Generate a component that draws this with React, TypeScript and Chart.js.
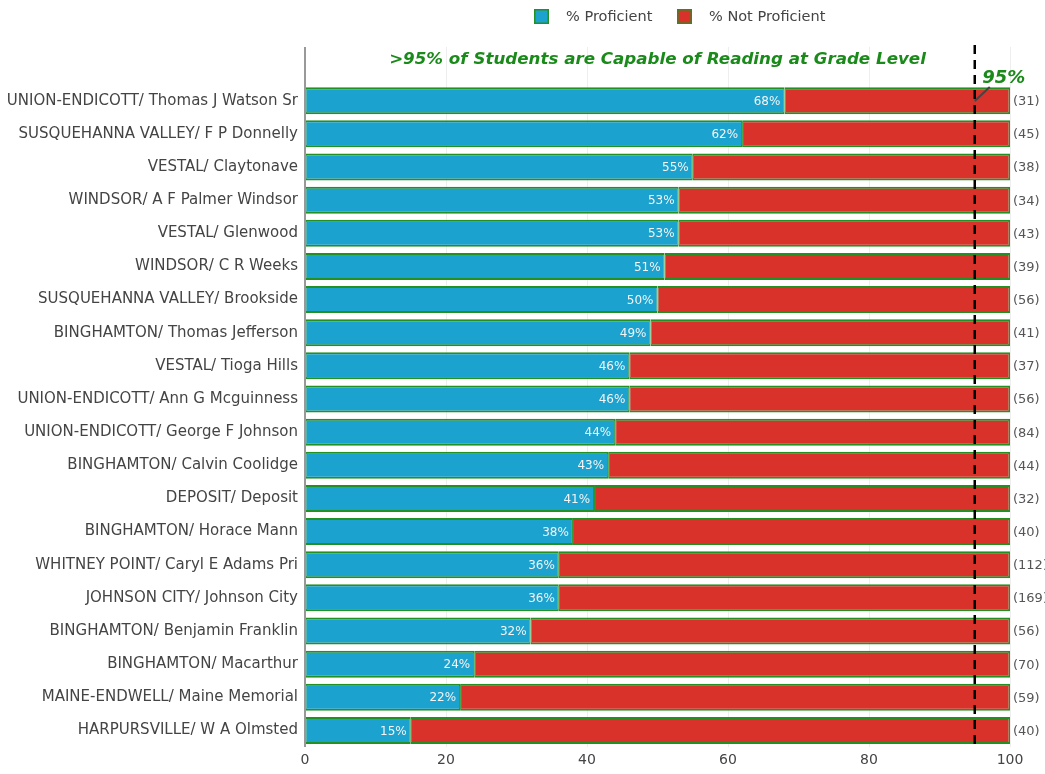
import React, { useEffect, useRef } from "react";
import { Chart, registerables } from "chart.js";

Chart.register(...registerables);

const categories: string[] = [
  "UNION-ENDICOTT/ Thomas J Watson Sr",
  "SUSQUEHANNA VALLEY/ F P Donnelly",
  "VESTAL/ Claytonave",
  "WINDSOR/ A F Palmer Windsor",
  "VESTAL/ Glenwood",
  "WINDSOR/ C R Weeks",
  "SUSQUEHANNA VALLEY/ Brookside",
  "BINGHAMTON/ Thomas Jefferson",
  "VESTAL/ Tioga Hills",
  "UNION-ENDICOTT/ Ann G Mcguinness",
  "UNION-ENDICOTT/ George F Johnson",
  "BINGHAMTON/ Calvin Coolidge",
  "DEPOSIT/ Deposit",
  "BINGHAMTON/ Horace Mann",
  "WHITNEY POINT/ Caryl E Adams Pri",
  "JOHNSON CITY/ Johnson City",
  "BINGHAMTON/ Benjamin Franklin",
  "BINGHAMTON/ Macarthur",
  "MAINE-ENDWELL/ Maine Memorial",
  "HARPURSVILLE/ W A Olmsted",
];

const proficient: number[] = [68, 62, 55, 53, 53, 51, 50, 49, 46, 46, 44, 43, 41, 38, 36, 36, 32, 24, 22, 15];
const notProficient: number[] = [32, 38, 45, 47, 47, 49, 50, 51, 54, 54, 56, 57, 59, 62, 64, 64, 68, 76, 78, 85];
const studentCounts: number[] = [31, 45, 38, 34, 43, 39, 56, 41, 37, 56, 84, 44, 32, 40, 112, 169, 56, 70, 59, 40];
const xTicks: number[] = [0, 20, 40, 60, 80, 100];
const threshold = 95;
const titleText = ">95% of Students are Capable of Reading at Grade Level";
const seriesNames: string[] = ["% Proficient", "% Not Proficient"];

const BLUE = "#1CA2CE";
const RED = "#D9322B";
const BORDER = "#239023";
const GREEN_TEXT = "#1a8a1a";
const FONT = "'DejaVu Sans', Verdana, sans-serif";

export default function App() {
  const ref = useRef<HTMLCanvasElement | null>(null);

  useEffect(() => {
    document.body.style.margin = "0";
    const canvas = ref.current;
    if (!canvas) return;

    const labels = ["", ...categories];
    const d1 = [null, ...proficient];
    const d2 = [null, ...notProficient];

    const overlay = {
      id: "overlay",
      beforeDatasetsDraw(chart: any) {
        const ctx = chart.ctx;
        const xs = chart.scales.x;
        const area = chart.chartArea;
        ctx.save();
        ctx.strokeStyle = "#eeeeee";
        ctx.lineWidth = 1;
        for (const t of xTicks) {
          if (t === 0) continue;
          const px = Math.round(xs.getPixelForValue(t)) + 0.5;
          ctx.beginPath();
          ctx.moveTo(px, 47);
          ctx.lineTo(px, area.bottom);
          ctx.stroke();
        }
        ctx.restore();
      },
      afterDatasetsDraw(chart: any) {
        const ctx = chart.ctx;
        const xs = chart.scales.x;
        const area = chart.chartArea;
        ctx.save();
        // y axis line
        ctx.strokeStyle = "#999999";
        ctx.lineWidth = 2;
        ctx.beginPath();
        ctx.moveTo(305, 47);
        ctx.lineTo(305, area.bottom);
        ctx.stroke();

        // value labels and counts
        const m0 = chart.getDatasetMeta(0);
        const m1 = chart.getDatasetMeta(1);
        ctx.textBaseline = "middle";
        m0.data.forEach((el: any, i: number) => {
          if (i === 0) return;
          ctx.fillStyle = "#f4f4f4";
          ctx.font = `12px ${FONT}`;
          ctx.textAlign = "right";
          ctx.fillText(`${proficient[i - 1]}%`, el.x - 4, el.y + 1);
        });
        m1.data.forEach((el: any, i: number) => {
          if (i === 0) return;
          ctx.fillStyle = "#555555";
          ctx.font = `13px ${FONT}`;
          ctx.textAlign = "left";
          ctx.fillText(`(${studentCounts[i - 1]})`, area.right + 3, el.y + 1);
        });

        // threshold dashed line
        const tx = xs.getPixelForValue(threshold);
        ctx.strokeStyle = "#000000";
        ctx.lineWidth = 2.5;
        ctx.setLineDash([9, 6]);
        ctx.beginPath();
        ctx.moveTo(tx, 45);
        ctx.lineTo(tx, area.bottom + 1);
        ctx.stroke();
        ctx.setLineDash([]);

        // annotation arrow
        ctx.strokeStyle = "#444444";
        ctx.lineWidth = 2;
        ctx.beginPath();
        ctx.moveTo(tx + 15, 87);
        ctx.lineTo(tx, 101);
        ctx.stroke();

        ctx.fillStyle = GREEN_TEXT;
        ctx.font = `italic bold 18px ${FONT}`;
        ctx.textAlign = "center";
        ctx.fillText(`${threshold}%`, tx + 29, 78);

        // title
        ctx.font = `italic bold 16.7px ${FONT}`;
        ctx.textAlign = "center";
        ctx.fillText(titleText, (area.left + area.right) / 2, 60);

        // legend
        const items = [
          { name: seriesNames[0], color: BLUE, bx: 534, tx: 566 },
          { name: seriesNames[1], color: RED, bx: 677, tx: 709 },
        ];
        for (const it of items) {
          ctx.fillStyle = it.color;
          ctx.fillRect(it.bx, 9, 15, 15);
          ctx.strokeStyle = BORDER;
          ctx.lineWidth = 1.5;
          ctx.strokeRect(it.bx + 0.75, 9.75, 13.5, 13.5);
          ctx.fillStyle = "#444444";
          ctx.font = `14.5px ${FONT}`;
          ctx.textAlign = "left";
          ctx.fillText(it.name, it.tx, 17);
        }
        ctx.restore();
      },
    };

    const chart = new Chart(canvas, {
      type: "bar",
      data: {
        labels,
        datasets: [
          {
            label: seriesNames[0],
            data: d1 as any,
            backgroundColor: BLUE,
            borderColor: BORDER,
            borderWidth: { top: 2, bottom: 2, left: 1.5, right: 1 } as any,
            borderSkipped: false,
          },
          {
            label: seriesNames[1],
            data: d2 as any,
            backgroundColor: RED,
            borderColor: BORDER,
            borderWidth: { top: 2, bottom: 2, left: 1, right: 1.5 } as any,
            borderSkipped: false,
          },
        ],
      },
      options: {
        indexAxis: "y",
        responsive: false,
        animation: false,
        devicePixelRatio: 1,
        layout: { padding: { top: 51, right: 35, left: 0, bottom: 0 } },
        datasets: { bar: { categoryPercentage: 1, barPercentage: 0.815 } },
        plugins: {
          legend: { display: false },
          title: { display: false },
          tooltip: { enabled: false },
        },
        scales: {
          x: {
            stacked: true,
            min: 0,
            max: 100,
            border: { display: false },
            grid: { display: false, drawTicks: false },
            ticks: {
              stepSize: 20,
              padding: 5,
              color: "#444444",
              font: { family: FONT, size: 14 },
            },
            afterFit: (s: any) => {
              s.height = 27;
            },
          },
          y: {
            stacked: true,
            border: { display: false },
            grid: { display: false, drawTicks: false },
            ticks: {
              padding: 7,
              autoSkip: false,
              color: "#444444",
              font: { family: FONT, size: 15 },
            },
            afterFit: (s: any) => {
              s.width = 305;
            },
          },
        },
      },
      plugins: [overlay],
    });

    return () => chart.destroy();
  }, []);

  return (
    <div style={{ width: 1045, height: 774 }}>
      <canvas ref={ref} width={1045} height={774} />
    </div>
  );
}
